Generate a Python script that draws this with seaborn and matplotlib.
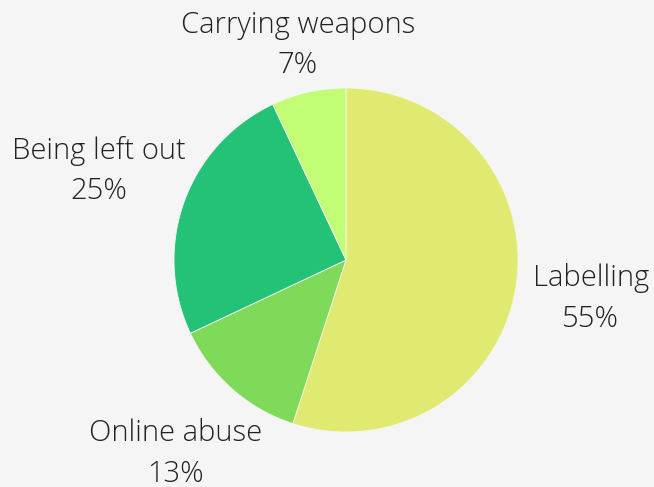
import numpy as np
import matplotlib
matplotlib.use("Agg")
import matplotlib.pyplot as plt
import seaborn as sns

sns.set_theme(style="white")
plt.rcParams["font.family"] = ["Open Sans", "DejaVu Sans"]

categories = ["Labelling", "Online abuse", "Being left out", "Carrying weapons"]
shares = [55, 13, 25, 7]
colors = ["#e1ea70", "#7fda5a", "#23c277", "#c1fd75"]
label_dist = [1.44, 1.50, 1.53, 1.28]

W, H = 654, 487
fig = plt.figure(figsize=(W / 100, H / 100), dpi=100, facecolor="#f5f5f5")
ax = fig.add_axes([0, 0, 1, 1])
ax.set_facecolor("#f5f5f5")

cx, cy, R = 346, H - 260, 172
wedges, _ = ax.pie(
    shares, colors=colors, startangle=90, counterclock=False,
    radius=R, center=(cx, cy),
    wedgeprops=dict(edgecolor="#f5f5f5", linewidth=0.6),
)

for w, name, val, d in zip(wedges, categories, shares, label_dist):
    mid = np.deg2rad((w.theta1 + w.theta2) / 2)
    x = cx + d * R * np.cos(mid)
    y = cy + d * R * np.sin(mid)
    ax.text(x, y, f"{name}\n{val}%", ha="center", va="center",
            fontsize=21, fontweight="light", color="#222222",
            linespacing=1.5)

ax.set_xlim(0, W)
ax.set_ylim(0, H)
ax.set_aspect("equal")
ax.axis("off")
fig.savefig("out.png", dpi=100, facecolor=fig.get_facecolor())
